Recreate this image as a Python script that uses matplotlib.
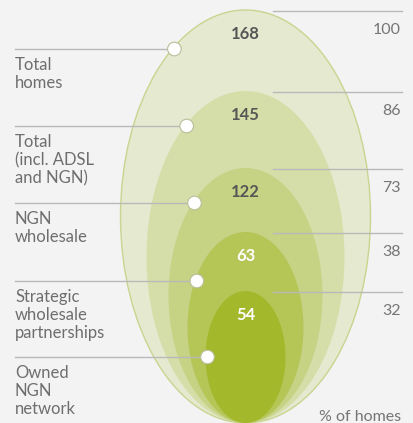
import matplotlib
matplotlib.use("Agg")
import matplotlib.pyplot as plt
from matplotlib.patches import Ellipse, Circle
import numpy as np

# ---- data ----
labels = ["Total\nhomes", "Total\n(incl. ADSL\nand NGN)", "NGN\nwholesale",
          "Strategic\nwholesale\npartnerships", "Owned\nNGN\nnetwork"]
homes = [168, 145, 122, 63, 54]
pct = [100, 86, 73, 38, 32]
unit_label = "% of homes"

# ---- layout / style ----
W, H = 413, 423
cx = 245.5
bottom = 423.0
tops = [10, 91, 168, 232, 291]
half_w = [125, 99, 77, 58, 40]
fills = ["#e5e9cf", "#d5dea8", "#c6d284", "#b5c657", "#a4b82c"]
num_colors = ["#565656", "#565656", "#565656", "#ffffff", "#ffffff"]
label_line_y = [49, 126, 203, 281, 357]
FONT = ["Lato", "DejaVu Sans"]
TXT = "#6e6e6e"
LINE = "#b9b9b9"

fig = plt.figure(figsize=(W / 100, H / 100), dpi=100)
fig.patch.set_facecolor("#f3f3f3")
ax = fig.add_axes([0, 0, 1, 1])
ax.set_xlim(0, W)
ax.set_ylim(H, 0)
ax.axis("off")

for i, (t, a, c) in enumerate(zip(tops, half_w, fills)):
    b = (bottom - t) / 2
    cy = t + b
    e = Ellipse((cx, cy), 2 * a, 2 * b, facecolor=c,
                edgecolor="#c8d590" if i == 0 else "none",
                lw=1.0, zorder=1 + i)
    ax.add_patch(e)
    ax.text(cx, t + 29, str(homes[i]), ha="center", va="baseline",
            fontsize=12, fontweight="bold", color=num_colors[i],
            family=FONT, zorder=20)
    # right side reference line + percentage
    ax.plot([273, 402], [t + 1, t + 1], color=LINE, lw=1.0, zorder=15)
    ax.text(401, t + 24, str(pct[i]), ha="right", va="baseline",
            fontsize=11.5, color="#757575", family=FONT, zorder=20)
    # left label line + dot on ellipse boundary
    ly = label_line_y[i]
    dx = a * np.sqrt(max(0.0, 1 - ((ly - cy) / b) ** 2))
    px = cx - dx + 2
    ax.plot([15, px], [ly, ly], color=LINE, lw=1.0, zorder=15)
    ax.add_patch(Circle((px, ly), 6.8, facecolor="white",
                        edgecolor="#b8c09a", lw=0.8, zorder=16))
    for k, line in enumerate(labels[i].split("\n")):
        ax.text(15, ly + 21 + 18 * k, line, ha="left", va="baseline",
                fontsize=12, color=TXT, family=FONT, zorder=20)

ax.text(401, 421, unit_label, ha="right", va="baseline", fontsize=11.5,
        color="#757575", family=FONT, zorder=20)

fig.savefig("out.png", dpi=100, facecolor=fig.get_facecolor())
